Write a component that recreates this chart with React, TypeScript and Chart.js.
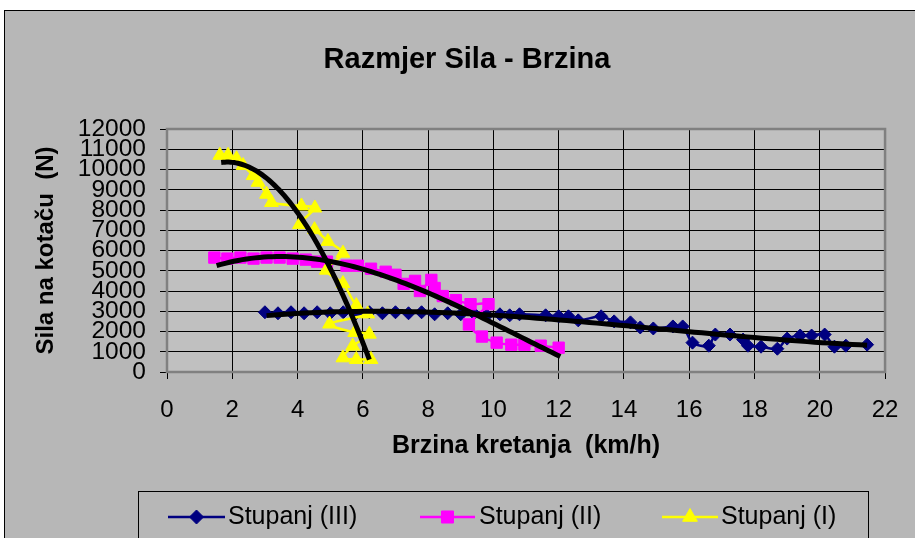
import React, { useEffect, useRef } from "react";
import { Chart, registerables } from "chart.js";

Chart.register(...registerables);

const CHART_TITLE = "Razmjer Sila - Brzina";
const X_TITLE = "Brzina kretanja  (km/h)";
const Y_TITLE = "Sila na kotaču  (N)";
const SERIES_NAMES = ["Stupanj (III)", "Stupanj (II)", "Stupanj (I)"];

const X_MIN = 0;
const X_MAX = 22;
const X_STEP = 2;
const Y_MIN = 0;
const Y_MAX = 12000;
const Y_STEP = 1000;

// Stupanj (III)
const gear3X = [3.0, 3.4, 3.8, 4.2, 4.6, 5.0, 5.4, 5.8, 6.2, 6.6, 7.0, 7.4, 7.8, 8.2, 8.6, 9.0, 9.4, 9.8, 10.2, 10.5, 10.8, 11.6, 12.0, 12.3, 12.6, 13.3, 13.7, 14.2, 14.5, 14.9, 15.5, 15.8, 16.1, 16.6, 16.8, 17.25, 17.65, 17.8, 18.2, 18.7, 19.0, 19.4, 19.75, 20.15, 20.45, 20.8, 21.45];
const gear3Y = [2950, 2900, 2950, 2900, 2950, 2900, 2950, 2900, 2950, 2900, 2950, 2900, 2950, 2850, 2900, 2850, 2900, 2800, 2850, 2800, 2850, 2800, 2750, 2750, 2550, 2750, 2500, 2450, 2200, 2150, 2250, 2250, 1450, 1300, 1850, 1850, 1600, 1300, 1250, 1150, 1650, 1800, 1800, 1850, 1250, 1300, 1350];

// Stupanj (II)
const gear2X = [1.45, 1.85, 2.25, 2.65, 3.05, 3.45, 3.85, 4.25, 4.6, 4.9, 5.5, 5.85, 6.25, 6.7, 7.0, 7.25, 7.6, 7.75, 8.1, 8.2, 8.45, 8.85, 9.3, 9.85, 9.25, 9.65, 10.1, 10.55, 10.95, 11.45, 12.0];
const gear2Y = [5650, 5600, 5650, 5600, 5650, 5650, 5600, 5550, 5450, 5450, 5250, 5250, 5100, 4950, 4800, 4350, 4500, 4000, 4550, 4150, 3750, 3550, 3350, 3350, 2350, 1750, 1450, 1350, 1350, 1300, 1200];

// Stupanj (I)
const gear1X = [1.62, 1.87, 2.13, 2.33, 2.64, 2.79, 3.05, 3.2, 4.12, 4.53, 4.06, 4.52, 4.93, 5.39, 4.88, 5.39, 5.8, 6.15, 4.98, 5.75, 6.2, 5.69, 5.39, 5.8, 6.25];
const gear1Y = [10700, 10700, 10530, 10200, 9700, 9370, 8780, 8370, 8200, 8100, 7280, 7030, 6450, 5870, 5030, 4370, 3280, 2870, 2370, 1950, 1870, 1280, 700, 620, 620];

// Polynomial trend lines
const trend3X = [3.05, 5.0, 7.42, 9.5, 12.2, 15.7, 21.45];
const trend3Y = [2820, 2900, 2980, 2880, 2580, 2000, 1330];
const trend2X = [1.52, 2.84, 3.5, 4.85, 6.8, 7.42, 8.95, 9.5, 12.05];
const trend2Y = [5220, 5700, 5730, 5480, 4650, 4250, 3230, 2850, 750];
const trend1X = [1.66, 2.13, 2.84, 3.35, 3.86, 4.37, 4.88, 5.39, 5.9, 6.2];
const trend1Y = [10280, 10400, 9870, 9120, 8200, 6870, 5370, 3920, 2120, 400];
const TREND_ORDER = 3;

const COLORS = ["#000080", "#ff00ff", "#ffff00"];
const POINT_STYLES = ["rectRot", "rect", "triangle"];
const POINT_RADII = [6.5, 8, 8];

const FONT_FAMILY = "'Liberation Sans', Arial, sans-serif";

function polyFit(xs: number[], ys: number[], order: number): number[] {
  const n = order + 1;
  const A: number[][] = Array.from({ length: n }, () => new Array(n + 1).fill(0));
  for (let k = 0; k < xs.length; k++) {
    const pw: number[] = [];
    for (let i = 0; i < 2 * n; i++) pw.push(Math.pow(xs[k], i));
    for (let i = 0; i < n; i++) {
      for (let j = 0; j < n; j++) A[i][j] += pw[i + j];
      A[i][n] += pw[i] * ys[k];
    }
  }
  for (let c = 0; c < n; c++) {
    let p = c;
    for (let r = c + 1; r < n; r++) if (Math.abs(A[r][c]) > Math.abs(A[p][c])) p = r;
    const tmp = A[c];
    A[c] = A[p];
    A[p] = tmp;
    for (let r = 0; r < n; r++) {
      if (r === c) continue;
      const f = A[r][c] / A[c][c];
      for (let j = c; j <= n; j++) A[r][j] -= f * A[c][j];
    }
  }
  return A.map((row, i) => row[n] / row[i]);
}

function trendPoints(xs: number[], ys: number[], order: number) {
  const coef = polyFit(xs, ys, order);
  const lo = Math.min(...xs);
  const hi = Math.max(...xs);
  const pts: { x: number; y: number }[] = [];
  const N = 80;
  for (let i = 0; i <= N; i++) {
    const x = lo + ((hi - lo) * i) / N;
    let y = 0;
    for (let j = coef.length - 1; j >= 0; j--) y = y * x + coef[j];
    pts.push({ x, y });
  }
  return pts;
}

function toPoints(xs: number[], ys: number[]) {
  return xs.map((x, i) => ({ x, y: ys[i] }));
}

function drawMarker(ctx: CanvasRenderingContext2D, style: string, r: number, x: number, y: number) {
  ctx.beginPath();
  if (style === "rectRot") {
    ctx.moveTo(x - r, y);
    ctx.lineTo(x, y - r);
    ctx.lineTo(x + r, y);
    ctx.lineTo(x, y + r);
  } else if (style === "rect") {
    const h = r * Math.SQRT1_2;
    ctx.rect(x - h, y - h, 2 * h, 2 * h);
  } else {
    ctx.moveTo(x, y - r);
    ctx.lineTo(x + r * 0.866, y + r / 2);
    ctx.lineTo(x - r * 0.866, y + r / 2);
  }
  ctx.closePath();
  ctx.fill();
  ctx.stroke();
}

const framePlugin = {
  id: "excelFrame",
  beforeDraw(chart: any) {
    const { ctx, width, height, chartArea: ca } = chart;
    ctx.save();
    ctx.fillStyle = "#ffffff";
    ctx.fillRect(0, 0, width, height);
    ctx.fillStyle = "#b7b7b7";
    ctx.fillRect(5, 11, width, height);
    ctx.strokeStyle = "#000000";
    ctx.lineWidth = 1;
    ctx.strokeRect(4.5, 10.5, width + 20, height + 20);
    ctx.fillStyle = "#c0c0c0";
    ctx.fillRect(ca.left, ca.top, ca.right - ca.left, ca.bottom - ca.top);
    // chart title
    ctx.fillStyle = "#000000";
    ctx.font = `bold 29px ${FONT_FAMILY}`;
    ctx.textAlign = "center";
    ctx.textBaseline = "middle";
    ctx.fillText(CHART_TITLE, 467, 60);
    ctx.restore();
  },
  beforeDatasetsDraw(chart: any) {
    const { ctx, chartArea: ca } = chart;
    ctx.save();
    ctx.strokeStyle = "#808080";
    ctx.lineWidth = 2.5;
    ctx.strokeRect(ca.left, ca.top, ca.right - ca.left, ca.bottom - ca.top);
    ctx.restore();
  },
  afterDraw(chart: any) {
    const { ctx } = chart;
    ctx.save();
    ctx.strokeStyle = "#000000";
    ctx.lineWidth = 1;
    ctx.strokeRect(138.5, 491.5, 730, 80);
    const items = [
      { x0: 168, x1: 225, tx: 228 },
      { x0: 420, x1: 475, tx: 479 },
      { x0: 662, x1: 718, tx: 721 },
    ];
    const ly = 517;
    items.forEach((it, i) => {
      ctx.strokeStyle = COLORS[i];
      ctx.lineWidth = 2.5;
      ctx.beginPath();
      ctx.moveTo(it.x0, ly);
      ctx.lineTo(it.x1, ly);
      ctx.stroke();
      ctx.fillStyle = COLORS[i];
      ctx.strokeStyle = COLORS[i];
      ctx.lineWidth = 1;
      drawMarker(ctx, POINT_STYLES[i], POINT_RADII[i] + 0.5, (it.x0 + it.x1) / 2, ly);
      ctx.fillStyle = "#000000";
      ctx.font = `25px ${FONT_FAMILY}`;
      ctx.textAlign = "left";
      ctx.textBaseline = "middle";
      ctx.fillText(SERIES_NAMES[i], it.tx, ly);
    });
    ctx.restore();
  },
};

export default function App() {
  const canvasRef = useRef<HTMLCanvasElement | null>(null);

  useEffect(() => {
    const canvas = canvasRef.current;
    if (!canvas) return;
    const seriesX = [gear3X, gear2X, gear1X];
    const seriesY = [gear3Y, gear2Y, gear1Y];
    const trendX = [trend3X, trend2X, trend1X];
    const trendY = [trend3Y, trend2Y, trend1Y];

    const dataSets: any[] = [];
    for (let i = 0; i < 3; i++) {
      dataSets.push({
        label: SERIES_NAMES[i],
        data: toPoints(seriesX[i], seriesY[i]),
        showLine: true,
        borderColor: COLORS[i],
        backgroundColor: COLORS[i],
        borderWidth: 2.5,
        tension: 0.3,
        pointStyle: POINT_STYLES[i],
        pointRadius: POINT_RADII[i],
        pointBorderWidth: 1,
        pointBorderColor: COLORS[i],
        pointBackgroundColor: COLORS[i],
        order: 4 - i,
      });
    }
    for (let i = 0; i < 3; i++) {
      dataSets.push({
        label: "trend " + SERIES_NAMES[i],
        data: trendPoints(trendX[i], trendY[i], TREND_ORDER),
        showLine: true,
        borderColor: "#000000",
        backgroundColor: "#000000",
        borderWidth: 5,
        pointRadius: 0,
        tension: 0,
        order: 0,
      });
    }

    const chart = new Chart(canvas, {
      type: "scatter",
      data: { datasets: dataSets },
      options: {
        responsive: false,
        animation: false,
        devicePixelRatio: 1,
        layout: { padding: { left: 10, right: 28, top: 129, bottom: 60 } },
        plugins: {
          legend: { display: false },
          tooltip: { enabled: false },
          title: { display: false },
        },
        scales: {
          x: {
            type: "linear",
            min: X_MIN,
            max: X_MAX,
            afterFit(scale: any) {
              scale.height = 106;
            },
            ticks: {
              stepSize: X_STEP,
              autoSkip: false,
              maxRotation: 0,
              padding: 16.6,
              color: "#000000",
              font: { family: FONT_FAMILY, size: 24 },
              callback: (v: any) => String(v),
            },
            grid: { color: "#000000", lineWidth: 1, drawTicks: true, tickLength: 7, tickColor: "#000000" },
            border: { display: false },
            title: {
              display: true,
              text: X_TITLE,
              color: "#000000",
              font: { family: FONT_FAMILY, size: 25, weight: "bold" },
              padding: { top: 0, bottom: 17 },
            },
          },
          y: {
            type: "linear",
            min: Y_MIN,
            max: Y_MAX,
            afterFit(scale: any) {
              scale.width = 157;
            },
            ticks: {
              stepSize: Y_STEP,
              autoSkip: false,
              padding: 14,
              color: "#000000",
              font: { family: FONT_FAMILY, size: 24.5 },
              callback: (v: any) => String(v),
            },
            grid: { color: "#000000", lineWidth: 1, drawTicks: true, tickLength: 7, tickColor: "#000000" },
            border: { display: false },
            title: {
              display: true,
              text: Y_TITLE,
              color: "#000000",
              font: { family: FONT_FAMILY, size: 24, weight: "bold" },
              padding: { top: 22, bottom: 0 },
            },
          },
        },
      },
      plugins: [framePlugin],
    } as any);

    return () => chart.destroy();
  }, []);

  return (
    <div style={{ position: "absolute", left: 0, top: 0, width: 915, height: 538, overflow: "hidden" }}>
      <canvas ref={canvasRef} width={915} height={538} style={{ display: "block" }} />
    </div>
  );
}
